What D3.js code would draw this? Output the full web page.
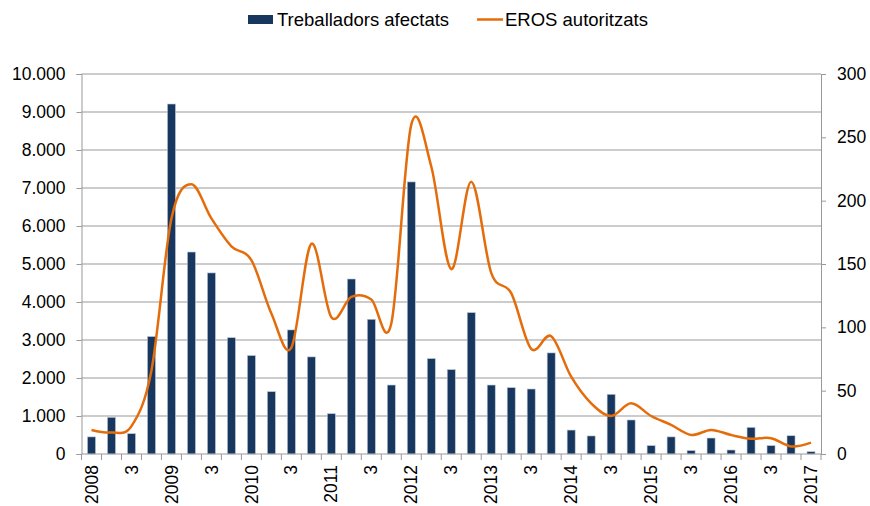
<!DOCTYPE html>
<html>
<head>
<meta charset="utf-8">
<script src="https://cdn.jsdelivr.net/npm/d3@7"></script>
<style>
body { margin: 0; background: #fff; }
svg { font-family: "Liberation Sans", Arial, sans-serif; }
</style>
</head>
<body>
<svg id="mainSvg" width="870" height="506"></svg>
<script>
// quarters 2008 Q1 .. 2017 Q1
var quarters = ["2008","2","3","4","2009","2","3","4","2010","2","3","4","2011","2","3","4",
  "2012","2","3","4","2013","2","3","4","2014","2","3","4","2015","2","3","4",
  "2016","2","3","4","2017"];

var treballadors = [450, 965, 535, 3090, 9210, 5315, 4765, 3060, 2590, 1640, 3265, 2555,
  1060, 4605, 3545, 1815, 7160, 2510, 2220, 3720, 1815, 1745, 1710, 2660,
  630, 475, 1570, 895, 220, 450, 90, 420, 105, 700, 220, 480, 60];

var eros = [19, 17, 22, 66, 186, 213, 186, 164, 153, 111, 84, 166,
  108, 124, 122, 103, 260, 227, 146, 215, 143, 127, 83, 93,
  61, 40, 30, 40, 30, 23, 15, 19, 15, 12, 12.5, 6, 9];

var leftTicks = [0,1000,2000,3000,4000,5000,6000,7000,8000,9000,10000];
var rightTicks = [0,50,100,150,200,250,300];

var barColor = "#17375e", lineColor = "#e46c0a", gridColor = "#999";

var margin = {top: 74, left: 81.5, right: 49, bottom: 52};
var width = 870 - margin.left - margin.right,
    height = 506 - margin.top - margin.bottom;

var loc = d3.formatLocale({decimal: ",", thousands: ".", grouping: [3], currency: ["", "€"]});
var fmt = loc.format(",.0f");

var svg = d3.select("#mainSvg");
var g = svg.append("g").attr("transform", "translate(" + margin.left + "," + margin.top + ")");

var x = d3.scaleBand().domain(d3.range(quarters.length)).range([0, width]);
var y = d3.scaleLinear().domain([0, 10000]).range([height, 0]);
var y2 = d3.scaleLinear().domain([0, 300]).range([height, 0]);

// gridlines
g.selectAll(".grid").data(leftTicks.slice(1)).enter().append("line")
  .attr("x1", 0).attr("x2", width)
  .attr("y1", function(d) { return y(d); }).attr("y2", function(d) { return y(d); })
  .attr("stroke", gridColor).attr("stroke-width", 1);

// left axis
var yAxis = g.append("g").call(d3.axisLeft(y).tickValues(leftTicks).tickFormat(fmt).tickSizeOuter(0).tickSize(5).tickPadding(11));
yAxis.select(".domain").attr("stroke", gridColor);
yAxis.selectAll(".tick line").attr("stroke", gridColor);
yAxis.selectAll("text").attr("font-size", "17.5px").attr("fill", "#000");

// right axis
var y2Axis = g.append("g").attr("transform", "translate(" + width + ",0)")
  .call(d3.axisRight(y2).tickValues(rightTicks).tickSizeOuter(0).tickSize(5).tickPadding(11));
y2Axis.select(".domain").attr("stroke", gridColor);
y2Axis.selectAll(".tick line").attr("stroke", gridColor);
y2Axis.selectAll("text").attr("font-size", "17.5px").attr("fill", "#000");

// bars
var bw = 8;
g.selectAll(".bar").data(treballadors).enter().append("rect")
  .attr("class", "bar")
  .attr("x", function(d, i) { return x(i) + x.bandwidth() / 2 - bw / 2; })
  .attr("y", function(d) { return y(d); })
  .attr("width", bw)
  .attr("height", function(d) { return height - y(d); })
  .attr("fill", barColor)
  .attr("stroke", "#b9c4d4").attr("stroke-width", 0.6);

// bottom axis
var xa = g.append("g").attr("transform", "translate(0," + height + ")");
xa.append("line").attr("x1", 0).attr("x2", width).attr("stroke", gridColor);
xa.selectAll(".xt").data(d3.range(quarters.length + 1)).enter().append("line")
  .attr("x1", function(d) { return d * x.step(); }).attr("x2", function(d) { return d * x.step(); })
  .attr("y1", 0).attr("y2", 6).attr("stroke", gridColor);
quarters.forEach(function(q, i) {
  if (i % 2 !== 0) return;
  xa.append("text")
    .attr("transform", "translate(" + (x(i) + x.bandwidth() / 2) + ",11) rotate(-90)")
    .attr("text-anchor", "end")
    .attr("dy", "0.35em")
    .attr("font-size", "17.5px")
    .attr("fill", "#000")
    .text(q);
});

// line
var valueline = d3.line()
  .x(function(d, i) { return x(i) + x.bandwidth() / 2; })
  .y(function(d) { return y2(d); })
  .curve(d3.curveCardinal.tension(0));
g.append("path").attr("d", valueline(eros))
  .attr("fill", "none").attr("stroke", lineColor).attr("stroke-width", 2.5);

// legend
var lg = svg.append("g");
lg.append("rect").attr("x", 248).attr("y", 15).attr("width", 25).attr("height", 9).attr("fill", barColor);
lg.append("text").attr("x", 277).attr("y", 26).attr("font-size", "18.5px").text("Treballadors afectats");
lg.append("line").attr("x1", 477).attr("x2", 503).attr("y1", 19.5).attr("y2", 19.5)
  .attr("stroke", lineColor).attr("stroke-width", 2.5);
lg.append("text").attr("x", 505).attr("y", 26).attr("font-size", "18.5px").text("EROS autoritzats");
</script>
</body>
</html>
